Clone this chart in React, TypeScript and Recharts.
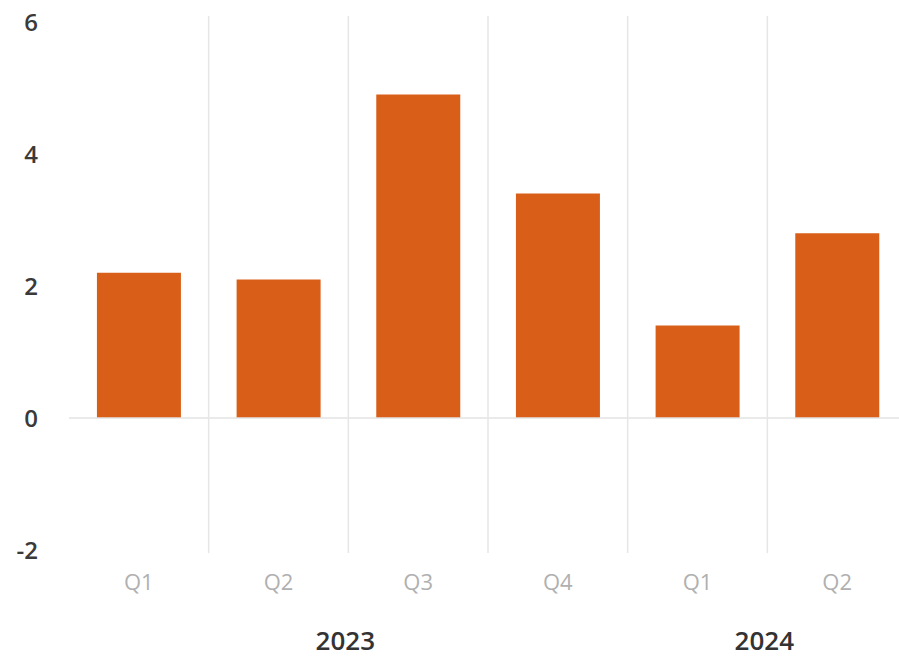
import React from 'react';
import { BarChart, Bar, XAxis, YAxis, ReferenceLine } from 'recharts';

// quarterly growth, %
const quarters = ['Q1', 'Q2', 'Q3', 'Q4', 'Q1', 'Q2'];
const years = ['2023', '2023', '2023', '2023', '2024', '2024'];
const growth = [2.2, 2.1, 4.9, 3.4, 1.4, 2.8];
const yTicks = [-2, 0, 2, 4, 6];

const data = quarters.map((q, i) => ({ key: `${years[i]}-${q}`, quarter: q, year: years[i], value: growth[i] }));

const W = 910;
const H = 657;
const M = { top: 22, right: 3, left: 0, bottom: 7 };
const Y_W = 69;
const X_H = 100;
const PLOT_BOTTOM = H - M.bottom - X_H;
const BAND = (W - M.left - M.right - Y_W) / quarters.length;
const FONT = '"Open Sans", "Noto Sans", sans-serif';

// quarter label, separator line on the left edge of the band, and the year under its group
const QuarterTick = (props: any) => {
  const { x, y, index } = props;
  const yr = years[index];
  const first = years.indexOf(yr);
  const count = years.filter((v) => v === yr).length;
  const mid = first + (count - 1) / 2;
  const showYear = index === Math.floor(mid);
  const shift = (mid - Math.floor(mid)) * BAND;
  return (
    <g>
      {index > 0 && (
        <line x1={x - BAND / 2} x2={x - BAND / 2} y1={M.top - 6} y2={PLOT_BOTTOM + 3} stroke="#e6e6e6" strokeWidth={1.5} />
      )}
      <text x={x} y={y} dy="0.71em" textAnchor="middle" fill="#b0b0b0" fontSize={22} fontFamily={FONT}>
        {quarters[index]}
      </text>
      {showYear && (
        <text x={x + shift - 3} y={y + 76} textAnchor="middle" fill="#333" fontSize={26} fontWeight={600} fontFamily={FONT}>
          {yr}
        </text>
      )}
    </g>
  );
};

export default function App() {
  return (
    <div style={{ position: 'fixed', left: 0, top: 0, width: 899, height: 657, overflow: 'hidden', background: '#fff' }}>
      <BarChart width={W} height={H} data={data} margin={M} barCategoryGap="20%">
        <XAxis
          dataKey="key"
          axisLine={false}
          tickLine={false}
          tickMargin={18}
          height={X_H}
          interval={0}
          tick={<QuarterTick />}
        />
        <YAxis
          domain={[-2, 6]}
          ticks={yTicks}
          width={Y_W}
          axisLine={false}
          tickLine={false}
          tickMargin={25}
          tick={{ fill: '#3a3a3a', fontSize: 24, fontWeight: 600, fontFamily: FONT }}
        />
        <ReferenceLine y={0} stroke="#e3e3e3" strokeWidth={1.5} />
        <Bar dataKey="value" fill="#d95f18" isAnimationActive={false} />
      </BarChart>
    </div>
  );
}
